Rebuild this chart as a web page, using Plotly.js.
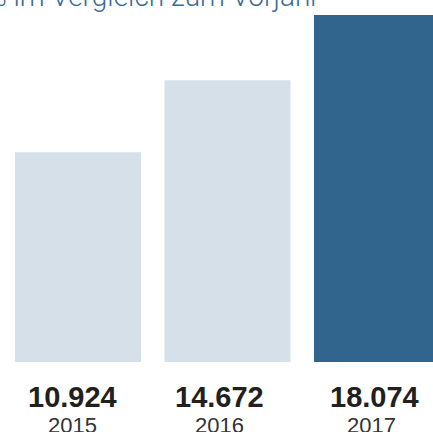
<!DOCTYPE html>
<html>
<head>
<meta charset="utf-8">
<script src="https://cdn.plot.ly/plotly-3.0.1.min.js"></script>
<style>html,body{margin:0;padding:0;background:#fff;}#chart{width:433px;height:432px;}</style>
</head>
<body>
<div id="chart"></div>
<script>
var years = ['2015', '2016', '2017'];
var values = [10.924, 14.672, 18.074];
var valueLabels = ['10.924', '14.672', '18.074'];
var subtitle = '% im Vergleich zum Vorjahr';

var barColors = ['#d5e0e9', '#d5e0e9', '#31658e'];
var valueShift = [-6, -8, -2];
var yearShift = [-6, -8, -5];

var H = 432;
var annotations = [];
years.forEach(function (yr, i) {
  annotations.push({
    x: i, xref: 'x', y: 1 - 397 / H, yref: 'paper',
    text: '<b>' + valueLabels[i] + '</b>',
    showarrow: false, xanchor: 'center', yanchor: 'middle',
    xshift: valueShift[i],
    font: {family: 'Liberation Sans, Arial, sans-serif', size: 29, color: '#231f20'}
  });
  annotations.push({
    x: i, xref: 'x', y: 1 - 425 / H, yref: 'paper',
    text: yr,
    showarrow: false, xanchor: 'center', yanchor: 'middle',
    xshift: yearShift[i],
    font: {family: 'Liberation Sans, Arial, sans-serif', size: 22, color: '#333333'}
  });
});
annotations.push({
  x: 322 / 433, xref: 'paper', y: 1, yref: 'paper',
  text: subtitle, showarrow: false,
  xanchor: 'right', yanchor: 'bottom', yshift: -15,
  font: {family: 'Roboto, Liberation Sans, sans-serif', size: 28, weight: 300, color: '#3a6b96'}
});

var trace = {
  type: 'bar',
  x: years,
  y: values,
  marker: {color: barColors, line: {width: 0}},
  width: 0.843,
  hoverinfo: 'none'
};

var layout = {
  width: 433, height: 432,
  margin: {l: 0, r: 0, t: 0, b: 0, pad: 0},
  paper_bgcolor: '#ffffff', plot_bgcolor: '#ffffff',
  showlegend: false,
  xaxis: {type: 'category', range: [-0.522, 2.375], showticklabels: false, showgrid: false, zeroline: false, showline: false, ticks: ''},
  yaxis: {range: [-3.646, 18.854], showticklabels: false, showgrid: false, zeroline: false, showline: false, ticks: ''},
  annotations: annotations
};

Plotly.newPlot('chart', [trace], layout, {displayModeBar: false, staticPlot: true});
</script>
</body>
</html>
